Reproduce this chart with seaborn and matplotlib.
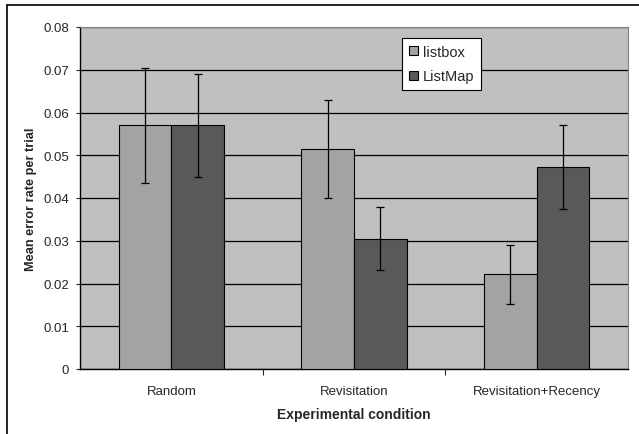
import pandas as pd
import numpy as np
import matplotlib
matplotlib.use("Agg")
import matplotlib.pyplot as plt
import seaborn as sns
from matplotlib.lines import Line2D

# values
conditions = ["Random", "Revisitation", "Revisitation+Recency"]
interfaces = ["listbox", "ListMap"]
listbox_mean = [0.057, 0.0514, 0.0222]
listmap_mean = [0.057, 0.0305, 0.0472]
listbox_err = [0.0135, 0.0115, 0.0069]
listmap_err = [0.012, 0.0073, 0.0098]

df = pd.DataFrame({
    "condition": conditions * 2,
    "interface": ["listbox"] * 3 + ["ListMap"] * 3,
    "rate": listbox_mean + listmap_mean,
    "err": listbox_err + listmap_err,
})

sns.set_style("white")
plt.rcParams["font.family"] = ["Liberation Sans", "DejaVu Sans"]

fig = plt.figure(figsize=(6.39, 4.35), dpi=100)
ax = fig.add_axes([80 / 639, 65 / 435, 548 / 639, 342 / 435])
ax.set_facecolor("#C0C0C0")

sns.barplot(data=df, x="condition", y="rate", hue="interface",
            order=conditions, hue_order=interfaces,
            palette={"listbox": "#A3A3A3", "ListMap": "#595959"},
            width=0.575, edgecolor="black", linewidth=0.8,
            errorbar=None, ax=ax, zorder=3)

# error bars at the centre of each bar
for cont, name in zip(ax.containers, interfaces):
    sub = df[df["interface"] == name].set_index("condition").loc[conditions]
    xs = [p.get_x() + p.get_width() / 2 for p in cont.patches]
    ax.errorbar(xs, sub["rate"], yerr=sub["err"], fmt="none",
                ecolor="black", elinewidth=0.9, capsize=3, capthick=0.9, zorder=4)

ax.set_ylim(0, 0.08)
ax.set_xlim(-0.5, 2.5)
ax.set_yticks(np.arange(0, 0.081, 0.01))
ax.set_yticklabels(["0"] + [f"{v:.2f}" for v in np.arange(0.01, 0.081, 0.01)])
ax.yaxis.grid(True, color="black", linewidth=0.9, zorder=0)
ax.set_axisbelow(True)

ax.tick_params(axis="y", which="both", left=True, length=3, width=0.8,
               direction="out", labelsize=9.5, pad=5)
ax.tick_params(axis="x", bottom=False, labelsize=9.5, pad=8)
ax.set_xticks([0.5, 1.5], minor=True)
ax.tick_params(axis="x", which="minor", bottom=True, length=4, width=0.8, direction="out")

for side in ["left", "bottom"]:
    ax.spines[side].set_color("black")
    ax.spines[side].set_linewidth(1.0)
for side in ["top", "right"]:
    ax.spines[side].set_color("#808080")
    ax.spines[side].set_linewidth(0.8)

ax.set_xlabel("Experimental condition", fontsize=10, fontweight="bold", labelpad=7)
ax.set_ylabel("Mean error rate per trial", fontsize=9.2, fontweight="bold", labelpad=4)

leg = ax.legend(loc="upper left", bbox_to_anchor=((402 - 80) / 548, (370 - 39) / 342),
                borderaxespad=0, frameon=True, fancybox=False, fontsize=10.5,
                handlelength=0.65, handleheight=0.65, handletextpad=0.35,
                labelspacing=0.75, borderpad=0.45, title=None)
leg.get_frame().set_edgecolor("black")
leg.get_frame().set_linewidth(0.8)
leg.get_frame().set_facecolor("white")
leg.get_frame().set_alpha(1)

# outer chart border, cut off at the right and bottom edges like the original
fig.add_artist(Line2D([7 / 639, 7 / 639], [0, 1 - 6 / 435], color="black", linewidth=1.2))
fig.add_artist(Line2D([7 / 639, 1], [1 - 6 / 435, 1 - 6 / 435], color="black", linewidth=1.2))

fig.savefig("out.png", dpi=100)
